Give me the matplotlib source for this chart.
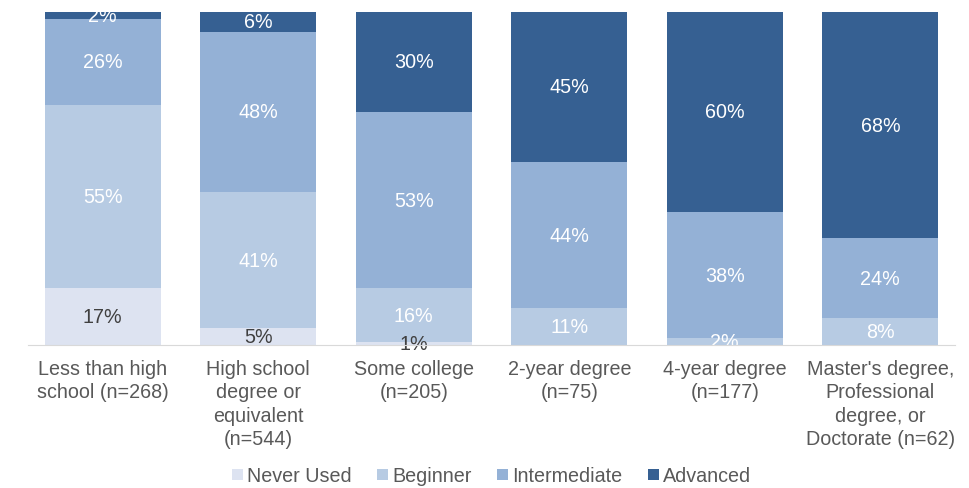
import matplotlib.pyplot as plt
import numpy as np

plt.rcParams['font.family'] = ['Liberation Sans', 'DejaVu Sans']

categories = [
    "Less than high\nschool (n=268)",
    "High school\ndegree or\nequivalent\n(n=544)",
    "Some college\n(n=205)",
    "2-year degree\n(n=75)",
    "4-year degree\n(n=177)",
    "Master's degree,\nProfessional\ndegree, or\nDoctorate (n=62)",
]
levels = ["Never Used", "Beginner", "Intermediate", "Advanced"]
never_used = [17, 5, 1, 0, 0, 0]
beginner = [55, 41, 16, 11, 2, 8]
intermediate = [26, 48, 53, 44, 38, 24]
advanced = [2, 6, 30, 45, 60, 68]

colors = ["#dde3f1", "#b7cbe3", "#94b1d6", "#366092"]
text_colors = ["#404040", "white", "white", "white"]
fs = 14.2

fig = plt.figure(figsize=(9.7, 4.89), dpi=100)
ax = fig.add_axes([28 / 970, (489 - 346) / 489, 927 / 970, 333 / 489])

x = np.arange(len(categories))
bottom = np.zeros(len(categories))
for name, vals, c, tc in zip(levels, [never_used, beginner, intermediate, advanced], colors, text_colors):
    vals = np.array(vals, dtype=float)
    bars = ax.bar(x, vals, 0.745, bottom=bottom, color=c, label=name, zorder=2)
    labels = [f"{v:.0f}%" if v > 0 else "" for v in vals]
    ax.bar_label(bars, labels=labels, label_type="center", color=tc, fontsize=fs, clip_on=False)
    bottom += vals

ax.set_xlim(-0.48, len(categories) - 0.52)
ax.set_ylim(0, 100)
ax.set_yticks([])
ax.set_xticks(x)
ax.set_xticklabels(categories, fontsize=fs, color="#595959", linespacing=1.3)
ax.tick_params(axis="x", length=0, pad=10)
for s in ["top", "left", "right"]:
    ax.spines[s].set_visible(False)
ax.spines["bottom"].set_color("#d9d9d9")
ax.spines["bottom"].set_zorder(3)

ax.legend(loc="center", bbox_to_anchor=(0.5, (477 - 346) / -333), ncol=4, frameon=False,
          fontsize=fs, labelcolor="#595959", handlelength=0.55, handleheight=0.55,
          handletextpad=0.2, columnspacing=1.3)

fig.savefig("out.png", dpi=100)
